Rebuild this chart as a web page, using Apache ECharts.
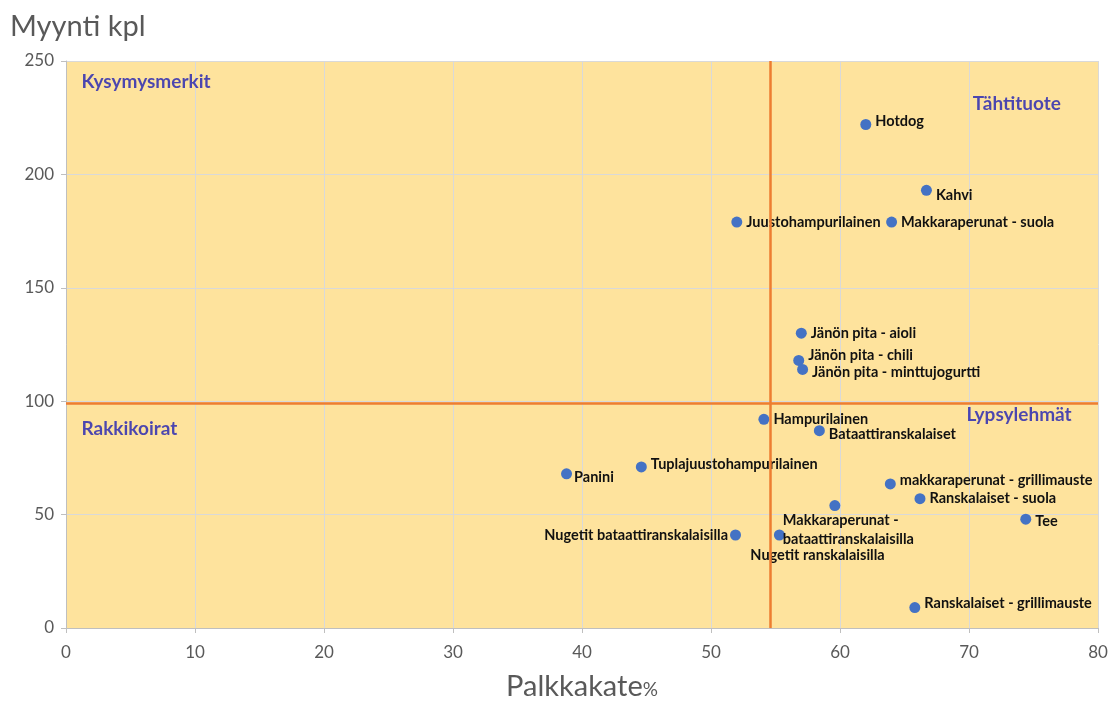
<!DOCTYPE html>
<html>
<head>
<meta charset="utf-8">
<script src="https://cdn.jsdelivr.net/npm/echarts@6/dist/echarts.min.js"></script>
<style>
  html, body { margin: 0; padding: 0; background: #fff; }
  #chart { width: 1119px; height: 704px; }
</style>
</head>
<body>
<div id="chart"></div>
<script>
// tuotteet: nimi, palkkakate %, myynti kpl
const products = [
  'Hotdog', 'Kahvi', 'Juustohampurilainen', 'Makkaraperunat - suola',
  'Jänön pita - aioli', 'Jänön pita - chili', 'Jänön pita - minttujogurtti',
  'Hampurilainen', 'Bataattiranskalaiset', 'Panini', 'Tuplajuustohampurilainen',
  'makkaraperunat - grillimauste', 'Ranskalaiset - suola',
  'Makkaraperunat -\nbataattiranskalaisilla', 'Tee',
  'Nugetit bataattiranskalaisilla', 'Nugetit ranskalaisilla',
  'Ranskalaiset - grillimauste'
]
const margin = [62.0, 66.7, 52.0, 64.0, 57.0, 56.8, 57.1, 54.1, 58.4, 38.8, 44.6, 63.9, 66.2, 59.6, 74.4, 51.9, 55.3, 65.8]
const sales = [222, 193, 179, 179, 130, 118, 114, 92, 87, 68, 71, 63.5, 57, 54, 48, 41, 41, 9]

// nelikentän rajat
const marginAvg = 54.6
const salesAvg = 99

const quadrantNames = ['Kysymysmerkit', 'Tähtituote', 'Rakkikoirat', 'Lypsylehmät']
const quadrantX = [1.2, 70.3, 1.2, 69.8]
const quadrantY = [241, 231, 88, 94]

// label placement per point (style only)
const labelStyle = {
  'Hotdog': { position: 'right', offset: [0, -3] },
  'Kahvi': { position: 'right', offset: [0, 5] },
  'Jänön pita - chili': { position: 'right', offset: [0, -5] },
  'Jänön pita - minttujogurtti': { position: 'right', offset: [0, 3] },
  'Bataattiranskalaiset': { position: 'right', offset: [0, 4] },
  'Tuplajuustohampurilainen': { position: 'right', offset: [0, -3] },
  'Panini': { position: 'right', offset: [-2, 4] },
  'makkaraperunat - grillimauste': { position: 'right', offset: [0, -4] },
  'Tee': { position: 'right', offset: [0, 2] },
  'Ranskalaiset - grillimauste': { position: 'right', offset: [0, -4] },
  'Nugetit bataattiranskalaisilla': { position: 'left', offset: [2, 0] },
  'Nugetit ranskalaisilla': { position: 'bottom', align: 'left', offset: [-29, 3] },
  'Makkaraperunat -\nbataattiranskalaisilla': { position: 'bottom', align: 'left', offset: [-52, -4], lineHeight: 19 }
}

const points = products.map((name, i) => {
  let lab = labelStyle[name] || { position: 'right' }
  return { name: name, value: [margin[i], sales[i]], label: lab }
})

const quadrantData = quadrantNames.map((name, i) => ({ name: name, value: [quadrantX[i], quadrantY[i]] }))

let chart = echarts.init(document.getElementById('chart'))

const axisGray = '#595959'
const fontFam = 'Lato, "Open Sans", sans-serif'

chart.setOption({
  animation: false,
  textStyle: { fontFamily: fontFam },
  grid: {
    left: 66, right: 21, top: 61, bottom: 76,
    outerBoundsMode: 'none', containLabel: false,
    show: true, backgroundColor: '#FEE39D', borderWidth: 0
  },
  xAxis: {
    type: 'value', min: 0, max: 80, interval: 10,
    name: 'Palkkakate{p|%}', nameLocation: 'middle', nameGap: 44,
    nameTextStyle: {
      fontSize: 29, color: axisGray, fontFamily: fontFam,
      rich: { p: { fontSize: 19, color: axisGray, fontFamily: fontFam, padding: [6, 0, 0, 0] } }
    },
    axisLine: { show: true, lineStyle: { color: '#BFBFBF' } },
    axisTick: { show: true, length: 5, lineStyle: { color: '#BFBFBF' } },
    axisLabel: { color: axisGray, fontSize: 17, margin: 16 },
    splitLine: { show: true, lineStyle: { color: '#D9D9D9' } }
  },
  yAxis: {
    type: 'value', min: 0, max: 250, interval: 50,
    name: 'Myynti kpl', nameLocation: 'end', nameGap: 20,
    nameTextStyle: { fontSize: 29, color: axisGray, align: 'left', padding: [0, 0, 0, -56], fontFamily: fontFam },
    axisLine: { show: true, lineStyle: { color: '#BFBFBF' } },
    axisTick: { show: true, length: 5, lineStyle: { color: '#BFBFBF' } },
    axisLabel: { color: axisGray, fontSize: 17, margin: 12 },
    splitLine: { show: true, lineStyle: { color: '#D9D9D9' } }
  },
  series: [
    {
      type: 'scatter',
      data: points,
      symbolSize: 11,
      itemStyle: { color: '#4472C4', opacity: 1 },
      label: {
        show: true,
        formatter: '{b}',
        color: '#111',
        fontSize: 14.5,
        fontWeight: 'bold',
        distance: 4
      },
      markLine: {
        silent: true,
        symbol: 'none',
        label: { show: false },
        lineStyle: { color: '#ED7D31', width: 2.5, type: 'solid', opacity: 1 },
        data: [{ xAxis: marginAvg }, { yAxis: salesAvg }]
      },
      z: 3
    },
    {
      type: 'scatter',
      data: quadrantData,
      symbolSize: 0,
      silent: true,
      label: {
        show: true,
        position: 'right',
        distance: 0,
        formatter: '{b}',
        color: '#1E1EB4',
        fontSize: 19,
        fontWeight: 'bold'
      },
      z: 4
    }
  ]
})
</script>
</body>
</html>
